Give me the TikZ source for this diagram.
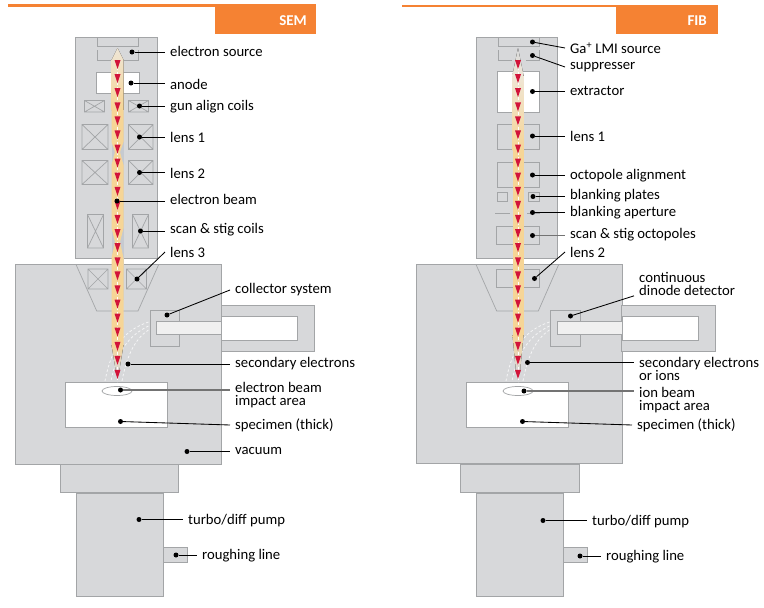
\documentclass[tikz,border=0pt]{standalone}
\usepackage{fontspec}
\setmainfont{Carlito}
\usepackage{xcolor}
\usepackage{tikz}
\definecolor{sortange}{HTML}{F58233}
\definecolor{body}{HTML}{D7D8DA}
\definecolor{edgegray}{HTML}{A3A5A7}
\definecolor{beamtan}{HTML}{F6D596}
\definecolor{beampale}{HTML}{EFE6D6}
\definecolor{beamhalo}{HTML}{C6CAD0}
\definecolor{tipred}{HTML}{D2143A}
\tikzset{
    part/.style = {draw = edgegray, line width = 0.8pt, fill = body},
    hole/.style = {draw = edgegray, line width = 0.8pt, fill = white},
    thin part/.style = {draw = edgegray, line width = 0.7pt},
    pin/.style = {circle, fill = black, inner sep = 0pt, minimum size = 5pt},
    tag/.style = {anchor = west, inner xsep = 5pt, inner ysep = 0pt, align = left, font = \fontsize{14.7}{13}\selectfont},
    lead/.style = {line width = 0.85pt},
    soft lead/.style = {line width = 1.3pt, black!55},
    spray/.style = {white!75!body, line width = 0.8pt, dash pattern = on 2.5pt off 2.2pt},
    head/.style = {fill = sortange, draw = none}
}
\newcommand{\coilbox}[4]{\draw [thin part] (#1, #2) rectangle (#3, #4) (#1, #2) -- (#3, #4) (#1, #4) -- (#3, #2);}
\newcommand{\beamline}[2]{
    \draw [white, line width = 0.8pt, dash pattern = on 3pt off 2pt] (#1, 62) -- (#1, #2);
    \foreach \y in {60, 74.09, ..., 371} {
        \fill [tipred] (#1 - 3, \y) -- (#1 + 3, \y) -- (#1, \y + 9) -- cycle;
    }
}
\begin{document}
\begin{tikzpicture}[x = 1pt, y = -1pt]
    \useasboundingbox (0, 0) rectangle (764, 608);

    % SEM
    \fill [head] (8, 4) rectangle (215, 7);
    \fill [head] (215, 4) rectangle (316, 34);
    \node (semhead) at (307, 20.5) [anchor = east, white, inner sep = 0pt, font = \fontsize{15}{15}\selectfont\bfseries] {SEM};

    \draw [part] (75, 37.5) rectangle (157.5, 258);
    \draw [part] (15.5, 264.5) rectangle (221.5, 464.5);
    \draw [part] (60.5, 464.5) rectangle (178.5, 492.5);
    \draw [part] (76.5, 493) rectangle (163.5, 596);
    \draw [part] (163.5, 547.5) rectangle (187.5, 562.5);
    \draw [part] (221.5, 305.5) rectangle (314.5, 351.5);
    \draw [hole] (221.5, 316.5) rectangle (297.5, 340.5);
    \draw [thin part] (150.5, 310.5) rectangle (179.5, 346.5);
    \draw [thin part, fill = black!6] (156.5, 321.5) rectangle (221.5, 334.5);
    \draw [hole] (65.5, 382.5) rectangle (167.5, 427.5);
    \draw [hole] (96, 72.5) rectangle (139, 93);
    \draw [thin part] (97, 37.5) -- (97, 46) -- (138, 46) -- (138, 37.5);
    \draw [thin part] (97, 50) -- (97, 60) -- (112, 60) (123, 60) -- (138, 60) -- (138, 50);
    \draw [thin part] (76, 264.5) -- (96.7, 311) -- (138, 311) -- (158.7, 264.5);
    \coilbox{84.5}{100.5}{104.5}{112}
    \coilbox{128.5}{100.5}{148.5}{112}
    \coilbox{82}{124.5}{108}{149.5}
    \coilbox{128.5}{124.5}{153}{149.5}
    \coilbox{82}{160.5}{108}{184.5}
    \coilbox{128.5}{160.5}{153}{184.5}
    \coilbox{87.5}{214.5}{103.5}{248}
    \coilbox{132.5}{214.5}{148.5}{248}
    \coilbox{88}{269}{108}{289}
    \coilbox{126.5}{269}{146.5}{289}

    \draw [spray] (148.5, 322) .. controls (125, 330) and (112, 345) .. (105, 381);
    \draw [spray] (148.5, 326) .. controls (130, 335) and (117, 350) .. (111, 381);
    \draw [spray] (148.5, 330) .. controls (133, 340) and (126, 360) .. (122, 381);
    \fill [top color = beampale, bottom color = beamtan] (117.5, 48) -- (123.5, 60) -- (123.5, 110) -- (111.5, 110) -- (111.5, 60) -- cycle;
    \fill [beamhalo] (111.5, 110) rectangle (123.5, 300);
    \fill [beamtan] (111.5, 110) -- (123.5, 110) -- (123.5, 142) -- (120, 152) -- (123.5, 165) -- (123.5, 228) -- (120, 242) -- (123.5, 258) -- (123.5, 345) -- (111.5, 345) -- (111.5, 258) -- (115, 242) -- (111.5, 228) -- (111.5, 165) -- (115, 152) -- (111.5, 142) -- cycle;
    \fill [top color = beamtan, bottom color = body] (111.5, 345) -- (123.5, 345) -- (119, 372) -- (116, 372) -- cycle;
    \beamline{117.5}{382}
    \draw [thin part] (117, 391) ellipse (15 and 4.5);

    \node (semsource) at (132, 52) [pin] {};
    \node (semanode) at (131, 83) [pin] {};
    \node (semgun) at (139.5, 106) [pin] {};
    \node (semlensa) at (139.5, 137) [pin] {};
    \node (semlensb) at (139.5, 172.5) [pin] {};
    \node (sembeam) at (117, 201) [pin] {};
    \node (semscan) at (140.5, 231) [pin] {};
    \node (semlensc) at (137, 279) [pin] {};
    \node (semcollector) at (167, 315) [pin] {};
    \node (semsecondary) at (128, 364) [pin] {};
    \node (semimpact) at (120.5, 390) [pin] {};
    \node (semspecimen) at (120.5, 421.5) [pin] {};
    \node (semvacuum) at (187, 451.5) [pin] {};
    \node (semturbo) at (139, 519.5) [pin] {};
    \node (semrough) at (176, 555) [pin] {};

    \node (tsemsource) at (165, 51) [tag] {electron source};
    \node (tsemanode) at (165, 84) [tag] {anode};
    \node (tsemgun) at (165, 107) [tag] {gun align coils};
    \node (tsemlensa) at (165, 137) [tag] {lens 1};
    \node (tsemlensb) at (165, 173) [tag] {lens 2};
    \node (tsembeam) at (165, 199) [tag] {electron beam};
    \node (tsemscan) at (165, 230) [tag] {scan \& stig coils};
    \node (tsemlensc) at (165, 252) [tag] {lens 3};
    \node (tsemcollector) at (230, 290) [tag] {collector system};
    \node (tsemsecondary) at (230, 364) [tag] {secondary electrons};
    \node (tsemimpact) at (230, 395) [tag] {electron beam\\impact area};
    \node (tsemspecimen) at (230, 425) [tag] {specimen (thick)};
    \node (tsemvacuum) at (230, 451) [tag] {vacuum};
    \node (tsemturbo) at (183, 521) [tag] {turbo/diff pump};
    \node (tsemrough) at (197, 556) [tag] {roughing line};

    \draw [lead] (semsource) -- (semsource -| tsemsource.west);
    \draw [lead] (semanode) -- (semanode -| tsemanode.west);
    \draw [lead] (semgun) -- (semgun -| tsemgun.west);
    \draw [lead] (semlensa) -- (semlensa -| tsemlensa.west);
    \draw [lead] (semlensb) -- (semlensb -| tsemlensb.west);
    \draw [lead] (sembeam) -- (sembeam -| tsembeam.west);
    \draw [lead] (semscan) -- (semscan -| tsemscan.west);
    \draw [lead] (semlensc) -- (tsemlensc.west);
    \draw [lead] (semcollector) -- (tsemcollector.west);
    \draw [lead] (semsecondary) -- (semsecondary -| tsemsecondary.west);
    \draw [soft lead] (semimpact) -- (semimpact -| tsemimpact.west);
    \draw [lead] (semspecimen) -- (tsemspecimen.west);
    \draw [lead] (semvacuum) -- (semvacuum -| tsemvacuum.west);
    \draw [lead] (semturbo) -- (semturbo -| tsemturbo.west);
    \draw [lead] (semrough) -- (semrough -| tsemrough.west);

    % FIB
    \fill [head] (402, 5) rectangle (616, 7);
    \fill [head] (616, 5) rectangle (718, 34);
    \node (fibhead) at (707, 20.5) [anchor = east, white, inner sep = 0pt, font = \fontsize{15}{15}\selectfont\bfseries] {FIB};

    \draw [part] (476.5, 37.5) rectangle (557.5, 258);
    \draw [part] (416.5, 264.5) rectangle (622.5, 463.5);
    \draw [part] (460.5, 464) rectangle (579.5, 492.5);
    \draw [part] (476.5, 493) rectangle (563.5, 596);
    \draw [part] (563.5, 547.5) rectangle (587.5, 562.5);
    \draw [part] (621.5, 305.5) rectangle (715.5, 351.5);
    \draw [hole] (622.5, 316.5) rectangle (698.5, 340.5);
    \draw [thin part] (550.5, 310.5) rectangle (580.5, 346.5);
    \draw [thin part, fill = black!6] (557.5, 321.5) rectangle (622.5, 334.5);
    \draw [hole] (466.5, 382.5) rectangle (568.5, 427.5);
    \draw [hole] (497.5, 71.5) rectangle (539.5, 112);
    \draw [thin part] (498, 37.5) rectangle (539.5, 46);
    \draw [thin part] (498, 50) -- (498, 60) -- (512, 60) (526, 60) -- (539.5, 60) -- (539.5, 50);
    \draw [thin part] (476, 264.5) -- (496.7, 311) -- (538.3, 311) -- (558.7, 264.5);
    \draw [thin part] (497.5, 124.5) rectangle (539.5, 149.5);
    \draw [thin part] (497.5, 162.5) rectangle (539.5, 187.5);
    \draw [thin part] (497.5, 192) rectangle (507.5, 201.5);
    \draw [thin part] (528.5, 192) rectangle (539.5, 201.5);
    \draw [thin part] (495, 213.5) -- (510, 213.5) (527, 213.5) -- (540, 213.5);
    \draw [thin part] (496.5, 226.5) rectangle (539.5, 244.5);
    \draw [thin part] (496.5, 269) rectangle (539.5, 287.5);

    \draw [spray] (549.5, 322) .. controls (526, 330) and (513, 345) .. (506, 381);
    \draw [spray] (549.5, 326) .. controls (531, 335) and (518, 350) .. (512, 381);
    \draw [spray] (549.5, 330) .. controls (534, 340) and (527, 360) .. (523, 381);
    \fill [top color = body, bottom color = beampale] (518, 48) -- (523.5, 75) -- (512.5, 75) -- cycle;
    \fill [top color = beampale, bottom color = beamtan] (512.5, 75) rectangle (523.5, 150);
    \fill [beamtan] (512.5, 150) rectangle (523.5, 335);
    \fill [top color = beamtan, bottom color = body] (512.5, 335) -- (523.5, 335) -- (520, 372) -- (516, 372) -- cycle;
    \beamline{518}{382}
    \draw [thin part] (518, 391) ellipse (15 and 4.5);

    \node (fibsource) at (532.5, 42) [pin] {};
    \node (fibsupp) at (532.5, 55.5) [pin] {};
    \node (fibextractor) at (532.5, 91.5) [pin] {};
    \node (fiblensa) at (532.5, 136) [pin] {};
    \node (fibocto) at (532.5, 175) [pin] {};
    \node (fibplates) at (533, 196.5) [pin] {};
    \node (fibaperture) at (532.5, 212.5) [pin] {};
    \node (fibscan) at (532.5, 235.5) [pin] {};
    \node (fiblensb) at (534.5, 278.5) [pin] {};
    \node (fibdetector) at (570.5, 316) [pin] {};
    \node (fibsecondary) at (527.5, 362.5) [pin] {};
    \node (fibimpact) at (524, 391) [pin] {};
    \node (fibspecimen) at (522.5, 421.5) [pin] {};
    \node (fibturbo) at (543, 520.5) [pin] {};
    \node (fibrough) at (580, 556) [pin] {};

    \node (tfibsource) at (565, 48) [tag] {Ga\textsuperscript{+} LMI source};
    \node (tfibsupp) at (565, 67) [tag] {suppresser};
    \node (tfibextractor) at (565, 91) [tag] {extractor};
    \node (tfiblensa) at (565, 136) [tag] {lens 1};
    \node (tfibocto) at (565, 176) [tag] {octopole alignment};
    \node (tfibplates) at (565, 196) [tag] {blanking plates};
    \node (tfibaperture) at (565, 213) [tag] {blanking aperture};
    \node (tfibscan) at (565, 235) [tag] {scan \& stig octopoles};
    \node (tfiblensb) at (565, 252) [tag] {lens 2};
    \node (tfibdetector) at (634, 284) [tag] {continuous\\dinode detector};
    \node (tfibsecondary) at (634, 369) [tag] {secondary electrons\\or ions};
    \node (tfibimpact) at (634, 400) [tag] {ion beam\\impact area};
    \node (tfibspecimen) at (632, 425) [tag] {specimen (thick)};
    \node (tfibturbo) at (587, 522) [tag] {turbo/diff pump};
    \node (tfibrough) at (601, 557) [tag] {roughing line};

    \draw [lead] (fibsource) -- (tfibsource.west);
    \draw [lead] (fibsupp) -- (tfibsupp.west);
    \draw [lead] (fibextractor) -- (fibextractor -| tfibextractor.west);
    \draw [lead] (fiblensa) -- (fiblensa -| tfiblensa.west);
    \draw [lead] (fibocto) -- (fibocto -| tfibocto.west);
    \draw [lead] (fibplates) -- (fibplates -| tfibplates.west);
    \draw [lead] (fibaperture) -- (fibaperture -| tfibaperture.west);
    \draw [soft lead] (fibscan) -- (fibscan -| tfibscan.west);
    \draw [lead] (fiblensb) -- (tfiblensb.west);
    \draw [lead] (fibdetector) -- (tfibdetector.south west);
    \draw [lead] (fibsecondary) -- (fibsecondary -| tfibsecondary.west);
    \draw [soft lead] (fibimpact) -- (fibimpact -| tfibimpact.west);
    \draw [lead] (fibspecimen) -- (tfibspecimen.west);
    \draw [lead] (fibturbo) -- (fibturbo -| tfibturbo.west);
    \draw [lead] (fibrough) -- (fibrough -| tfibrough.west);
\end{tikzpicture}
\end{document}
